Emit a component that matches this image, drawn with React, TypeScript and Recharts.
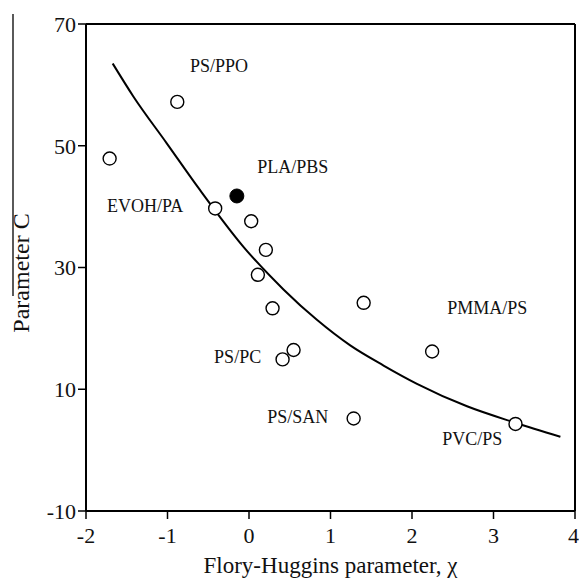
import {
  ComposedChart,
  Line,
  ReferenceLine,
  Scatter,
  XAxis,
  YAxis
} from 'recharts';

// open circles: measured blends
const blendChi = [-1.71, -0.88, -0.415, 0.027, 0.207, 0.109, 0.289, 0.412, 0.547, 1.407, 2.247, 1.284, 3.27];
const blendC = [47.9, 57.2, 39.7, 37.6, 32.9, 28.8, 23.3, 14.9, 16.45, 24.2, 16.2, 5.2, 4.3];

// filled circle: PLA/PBS
const plaChi = [-0.149];
const plaC = [41.75];

// fitted curve
const fitChi = [-1.672, -1.419, -1.009, -0.6, -0.068, 0.423, 0.833, 1.242, 1.651, 2.061, 2.675, 3.268, 3.821];
const fitC = [63.5, 58.1, 50.4, 42.7, 33.4, 26.4, 21.4, 17.2, 13.9, 10.9, 7.2, 4.5, 2.2];

// blend names, anchored at their left baseline
const labelNames = ['PS/PPO', 'PLA/PBS', 'EVOH/PA', 'PMMA/PS', 'PS/PC', 'PS/SAN', 'PVC/PS'];
const labelChi = [-0.723, 0.1, -1.742, 2.433, -0.428, 0.223, 2.372];
const labelC = [62.1, 45.5, 39.1, 22.4, 14.3, 4.45, 0.84];

const xTicks = [-2, -1, 0, 1, 2, 3, 4];
const yTicks = [-10, 10, 30, 50, 70];

const FONT = '"Liberation Serif", "Times New Roman", serif';

const blendData = blendChi.map((chi, i) => ({ chi, c: blendC[i] }));
const plaData = plaChi.map((chi, i) => ({ chi, c: plaC[i] }));
const fitData = fitChi.map((chi, i) => ({ chi, c: fitC[i] }));
const labelData = labelNames.map((name, i) => ({ chi: labelChi[i], c: labelC[i], name }));

function OpenCircle(props: any) {
  const { cx, cy } = props;
  return <circle cx={cx} cy={cy} r={6.5} fill="#fff" stroke="#000" strokeWidth={1.4} />;
}

function FilledCircle(props: any) {
  const { cx, cy } = props;
  return <circle cx={cx} cy={cy} r={7} fill="#000" stroke="#000" strokeWidth={1} />;
}

function NameText(props: any) {
  const { cx, cy, payload } = props;
  return (
    <text x={cx} y={cy} fontFamily={FONT} fontSize={18} fill="#111">
      {payload.name}
    </text>
  );
}

// rotated axis title with the long overline bar over "C"
function YLabel(props: any) {
  const { viewBox } = props;
  const x = viewBox.x + 3;
  const y = 273;
  return (
    <g>
      <line x1={x - 16} y1={14} x2={x - 16} y2={296} stroke="#000" strokeWidth={1.3} />
      <text
        x={x}
        y={y}
        fontFamily={FONT}
        fontSize={24}
        fill="#111"
        textAnchor="middle"
        transform={`rotate(-90, ${x}, ${y})`}
      >
        Parameter C
      </text>
    </g>
  );
}

export default function App() {
  return (
    <div style={{ position: 'absolute', left: 0, top: 0, background: '#fff' }}>
      <ComposedChart
        width={579}
        height={578}
        margin={{ top: 24, right: 4, left: 26, bottom: 0 }}
      >
        <XAxis
          dataKey="chi"
          type="number"
          domain={[-2, 4]}
          ticks={xTicks}
          allowDataOverflow
          height={67}
          stroke="#000"
          strokeWidth={2}
          tickSize={8}
          tickMargin={8}
          tick={{ fill: '#111', fontSize: 22, fontFamily: FONT }}
          tickLine={{ stroke: '#000', strokeWidth: 1.5 }}
          label={{
            value: 'Flory-Huggins parameter, χ',
            position: 'insideBottom',
            offset: 5,
            fill: '#111',
            fontSize: 23,
            fontFamily: FONT
          }}
        />
        <YAxis
          dataKey="c"
          type="number"
          domain={[-10, 70]}
          ticks={yTicks}
          allowDataOverflow
          width={60}
          stroke="#000"
          strokeWidth={2}
          tickSize={8}
          tickMargin={2}
          tick={{ fill: '#111', fontSize: 22, fontFamily: FONT }}
          tickLine={{ stroke: '#000', strokeWidth: 1.5 }}
          label={<YLabel />}
        />
        <ReferenceLine y={70} stroke="#000" strokeWidth={2} />
        <ReferenceLine x={4} stroke="#000" strokeWidth={2} />
        <Line
          data={fitData}
          dataKey="c"
          type="monotone"
          stroke="#000"
          strokeWidth={2}
          dot={false}
          activeDot={false}
          isAnimationActive={false}
        />
        <Scatter data={blendData} dataKey="c" shape={OpenCircle} isAnimationActive={false} />
        <Scatter data={plaData} dataKey="c" shape={FilledCircle} isAnimationActive={false} />
        <Scatter data={labelData} dataKey="c" shape={NameText} isAnimationActive={false} />
      </ComposedChart>
    </div>
  );
}
